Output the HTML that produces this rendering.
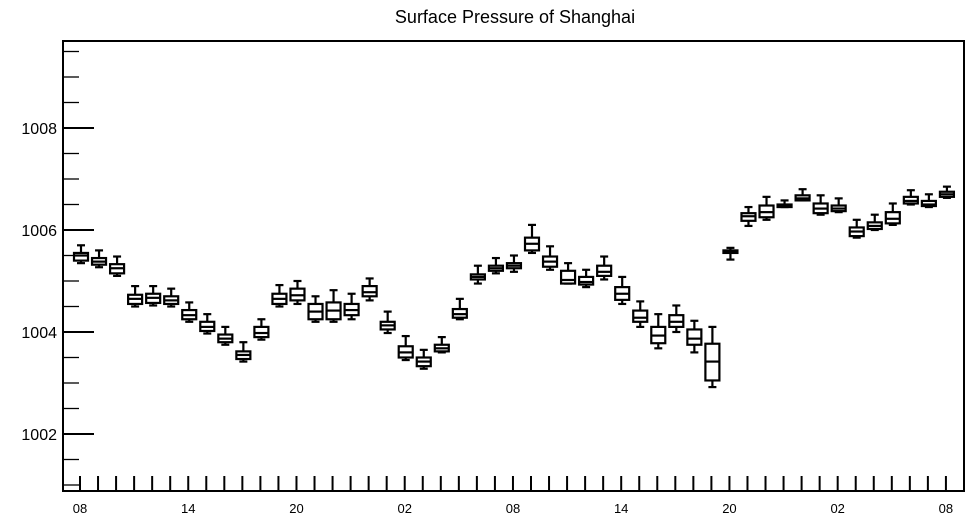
<!DOCTYPE html>
<html><head><meta charset="utf-8"><style>
html,body{margin:0;padding:0;background:#fff;}
svg{display:block;font-family:"Liberation Sans",sans-serif;}
</style></head><body>
<svg id="chart" width="969" height="520" xmlns="http://www.w3.org/2000/svg">
<text x="515" y="23" text-anchor="middle" font-size="18">Surface Pressure of Shanghai</text>
<rect x="63" y="41" width="901" height="450" fill="none" stroke="#000" stroke-width="2"/>
<g id="axes"></g>
<g id="boxes"></g>
</svg>
<script>
const hourLabels = ["08","14","20","02","08","14","20","02","08"];
const yTicks = [1002,1004,1006,1008];
const medians = [1005.5,1005.38,1005.25,1004.65,1004.67,1004.62,1004.33,1004.1,1003.87,1003.55,1003.98,1004.65,1004.72,1004.4,1004.42,1004.43,1004.78,1004.13,1003.6,1003.42,1003.68,1004.35,1005.08,1005.25,1005.3,1005.73,1005.38,1005.02,1004.98,1005.18,1004.75,1004.28,1003.93,1004.2,1003.87,1003.42,1005.57,1006.27,1006.35,1006.48,1006.62,1006.42,1006.42,1005.97,1006.08,1006.22,1006.57,1006.5,1006.7];
const q1s = [1005.4,1005.32,1005.15,1004.55,1004.57,1004.55,1004.25,1004.02,1003.8,1003.47,1003.9,1004.55,1004.62,1004.25,1004.25,1004.33,1004.7,1004.05,1003.5,1003.33,1003.62,1004.28,1005.03,1005.2,1005.25,1005.6,1005.28,1004.95,1004.93,1005.1,1004.63,1004.2,1003.78,1004.1,1003.75,1003.05,1005.55,1006.18,1006.25,1006.45,1006.58,1006.33,1006.37,1005.88,1006.02,1006.13,1006.52,1006.47,1006.65];
const q3s = [1005.55,1005.45,1005.33,1004.73,1004.75,1004.7,1004.43,1004.2,1003.95,1003.62,1004.1,1004.75,1004.85,1004.55,1004.58,1004.55,1004.9,1004.2,1003.72,1003.5,1003.75,1004.45,1005.13,1005.3,1005.35,1005.85,1005.48,1005.2,1005.08,1005.3,1004.88,1004.42,1004.1,1004.33,1004.05,1003.77,1005.6,1006.33,1006.48,1006.5,1006.68,1006.52,1006.48,1006.05,1006.15,1006.35,1006.65,1006.57,1006.75];
const maxs = [1005.7,1005.6,1005.48,1004.9,1004.9,1004.85,1004.58,1004.35,1004.1,1003.8,1004.25,1004.92,1005.0,1004.7,1004.82,1004.75,1005.05,1004.4,1003.92,1003.65,1003.9,1004.65,1005.3,1005.45,1005.5,1006.1,1005.68,1005.35,1005.22,1005.48,1005.08,1004.6,1004.35,1004.52,1004.22,1004.1,1005.65,1006.45,1006.65,1006.58,1006.8,1006.68,1006.62,1006.2,1006.3,1006.52,1006.78,1006.7,1006.85];
const mins = [1005.35,1005.27,1005.1,1004.5,1004.52,1004.5,1004.2,1003.97,1003.75,1003.42,1003.85,1004.5,1004.55,1004.2,1004.2,1004.25,1004.62,1003.98,1003.45,1003.28,1003.6,1004.25,1004.95,1005.15,1005.18,1005.55,1005.22,1004.95,1004.88,1005.03,1004.55,1004.1,1003.68,1004.0,1003.6,1002.92,1005.42,1006.08,1006.2,1006.45,1006.58,1006.3,1006.35,1005.85,1006.0,1006.1,1006.5,1006.45,1006.63];

const NS="http://www.w3.org/2000/svg";
const y = v => 128 + (1008 - v) * 51;
const x = i => 81 + i * 18.04;
function mk(tag, attrs, parent){const e=document.createElementNS(NS,tag);for(const k in attrs)e.setAttribute(k,attrs[k]);parent.appendChild(e);return e;}
const axes=document.getElementById('axes'), boxes=document.getElementById('boxes');

// y ticks
for(let v=1001; v<=1009.5; v+=0.5){
  const major = Number.isInteger(v/2) ;
  const t=mk('line',{x1:63,x2:major?94:79,y1:y(v),y2:y(v),stroke:'#000','stroke-width':major?2:1.3},axes);
  
  
}
yTicks.forEach(v=>{
  const t=mk('text',{x:57,y:y(v)+6,'text-anchor':'end','font-size':16},axes);
  t.textContent=v;
  
  
});
// x ticks
for(let i=0;i<medians.length;i++){
  const t=mk('line',{x1:x(i)-1,x2:x(i)-1,y1:476,y2:491,stroke:'#000','stroke-width':2},axes);
  
  
}
hourLabels.forEach((l,k)=>{
  const t=mk('text',{x:x(k*6)-1,y:513,'text-anchor':'middle','font-size':13},axes);
  t.textContent=l;
  
  
});
// boxes
for(let i=0;i<medians.length;i++){
  const g=mk('g',{stroke:'#000','stroke-width':2.2,fill:'#fff'},boxes);
  
  
  const cx=x(i);
  mk('line',{x1:cx,x2:cx,y1:y(maxs[i]),y2:y(q3s[i])},g);
  mk('line',{x1:cx,x2:cx,y1:y(q1s[i]),y2:y(mins[i])},g);
  mk('line',{x1:cx-4,x2:cx+4,y1:y(maxs[i]),y2:y(maxs[i])},g);
  mk('line',{x1:cx-4,x2:cx+4,y1:y(mins[i]),y2:y(mins[i])},g);
  mk('rect',{x:cx-7,y:y(q3s[i]),width:14,height:Math.max(1,y(q1s[i])-y(q3s[i]))},g);
  mk('line',{x1:cx-7,x2:cx+7,y1:y(medians[i]),y2:y(medians[i])},g);
}
</script>
</body></html>
